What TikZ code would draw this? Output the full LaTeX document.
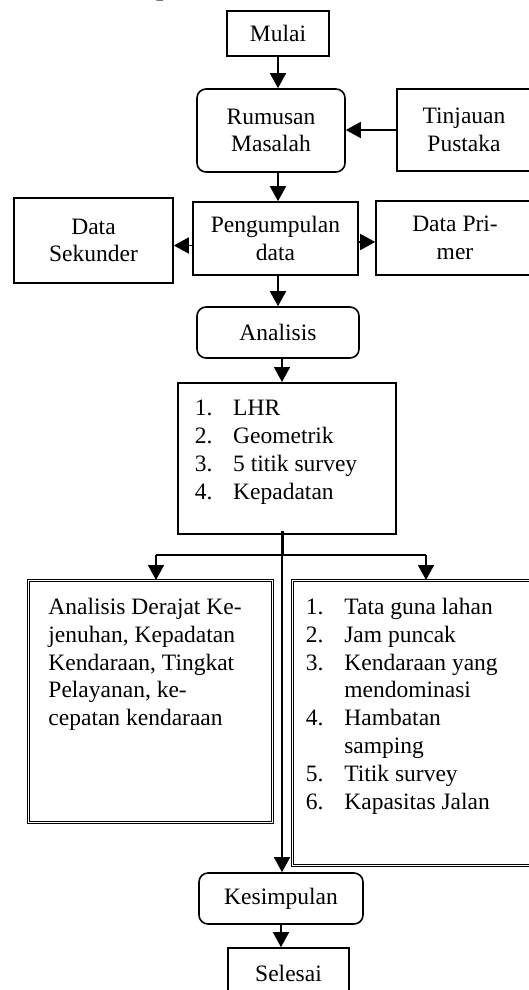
\documentclass[tikz,border=0pt]{standalone}
\usepackage{fontspec}
\setmainfont{Liberation Serif}
\usetikzlibrary{arrows.meta}
\newcommand\fs{\fontsize{23.5pt}{27.8pt}\selectfont}
\newcommand\lbox[5]{\parbox[c][#1][t]{#2}{\raggedright\leftskip=#3\relax\vspace*{#4}\strut#5}}
\newcommand\num[1]{\makebox[38.4pt][l]{#1}}
\begin{document}
\begin{tikzpicture}[x=1pt,y=-1pt,
  box/.style={draw, line width=1.6pt, font=\fs, align=center, inner sep=0pt},
  rbox/.style={box, rounded corners=9pt},
  lstbox/.style={draw, line width=1.6pt, font=\fs, inner sep=0pt, anchor=north west},
  dbox/.style={draw, double, line width=0.9pt, double distance=0.6pt, font=\fs, inner sep=0pt, anchor=north west},
  arr/.style={line width=1.6pt, -{Triangle[length=15pt,width=16pt]}}]
\useasboundingbox (0,0) rectangle (529,990);
% partially visible heading
\node[anchor=base west, font=\fontsize{26pt}{26pt}\selectfont\bfseries, inner sep=0pt] (head) at (156,-4) {p};
% nodes
\node[box, minimum width=102pt, minimum height=45pt] (mulai) at (278,33.5) {Mulai};
\node[rbox, minimum width=148pt, minimum height=83pt] (rum) at (271,130.5) {Rumusan\\Masalah};
\node[box, minimum width=134pt, minimum height=82pt] (tin) at (464,130) {Tinjauan\\Pustaka};
\node[box, minimum width=159pt, minimum height=85pt] (sek) at (93.5,240.5) {Data\\Sekunder};
\node[box, minimum width=165pt, minimum height=73pt] (peng) at (275.5,238.5) {Pengumpulan\\data};
\node[box, minimum width=158pt, minimum height=74pt] (prim) at (455,238) {Data Pri-\\mer};
\node[rbox, minimum width=162pt, minimum height=51pt] (anal) at (278,332.5) {Analisis};
\node[lstbox] (lhr) at (177,382) {\lbox{151pt}{218pt}{17pt}{13.5pt}{\num{1.}LHR\\\num{2.}Geometrik\\\num{3.}5 titik survey\\\num{4.}Kepadatan}};
\node[dbox] (left) at (28,580) {\lbox{242pt}{244pt}{20pt}{14.5pt}{Analisis Derajat Ke-\\jenuhan, Kepadatan\\Kendaraan, Tingkat\\Pelayanan, ke-\\cepatan kendaraan}};
\node[dbox] (right) at (292,580) {\lbox{285pt}{243pt}{13.5pt}{14.5pt}{\num{1.}Tata guna lahan\\\num{2.}Jam puncak\\\num{3.}Kendaraan yang\\\hspace*{38.4pt}mendominasi\\\num{4.}Hambatan\\\hspace*{38.4pt}samping\\\num{5.}Titik survey\\\num{6.}Kapasitas Jalan}};
\node[rbox, minimum width=164pt, minimum height=51pt] (kes) at (281,898.5) {Kesimpulan};
\node[box, minimum width=121pt, minimum height=50pt] (sel) at (288.5,973) {Selesai};
% coordinates
\coordinate (br) at (282,555);
\coordinate (bl) at (156,555);
\coordinate (brr) at (426,555);
% connectors
\draw[arr] (mulai.south) -- (mulai.south |- rum.north);
\draw[arr] (tin.west) -- (tin.west -| rum.east);
\draw[arr] (rum.south -| mulai) -- (peng.north -| mulai);
\draw[arr] ([yshift=-7pt]peng.west) -- ([yshift=-7pt]peng.west -| sek.east);
\draw[arr] ([yshift=-3.5pt]peng.east) -- ([yshift=-3.5pt]peng.east -| prim.west);
\draw[arr] (peng.south -| mulai) -- (anal.north -| mulai);
\draw[arr] (anal.south -| br) -- (lhr.north -| br);
\draw[line width=3pt] ([yshift=4pt]lhr.south -| br) -- (br);
\draw[line width=1.6pt] (bl) -- (brr);
\draw[arr] (bl) -- (bl |- left.north);
\draw[arr] (brr) -- (brr |- right.north);
\draw[arr] (br) -- (br |- kes.north);
\draw[arr] (kes.south) -- (kes.south |- sel.north);
\end{tikzpicture}
\end{document}
